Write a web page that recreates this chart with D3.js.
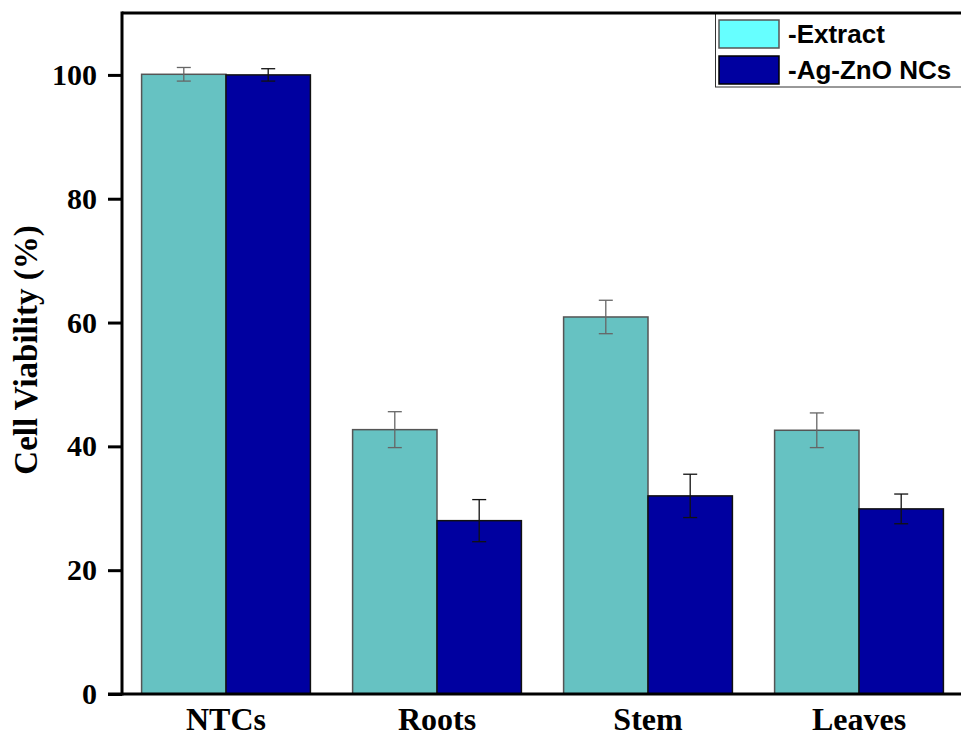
<!DOCTYPE html>
<html>
<head>
<meta charset="utf-8">
<script src="https://cdn.jsdelivr.net/npm/d3@7"></script>
<style>
  html, body { margin: 0; padding: 0; background: #fff; }
  svg { display: block; }
</style>
</head>
<body>
<svg id="chart" width="961" height="736"></svg>
<script>
const categories = ["NTCs", "Roots", "Stem", "Leaves"];
const seriesNames = ["-Extract", "-Ag-ZnO NCs"];
const extractValues = [100.1, 42.7, 60.9, 42.6];
const extractErrors = [1.1, 2.9, 2.7, 2.8];
const agznoValues = [100.0, 28.0, 32.0, 29.9];
const agznoErrors = [1.0, 3.4, 3.5, 2.4];
const yTicks = [0, 20, 40, 60, 80, 100];

const svg = d3.select("#chart");
const mLeft = 122, mTop = 13, mBottom = 694, mRight = 961;

const y = d3.scaleLinear().domain([0, 110]).range([mBottom, mTop]);
const x0 = d3.scaleBand().domain(categories).range([120.5, 964.5]).paddingInner(0.2).paddingOuter(0.1);
const x1 = d3.scaleBand().domain(seriesNames).range([0, x0.bandwidth()]);

const fills = ["#66C2C2", "#0000A0"];
const strokes = ["#555555", "#111111"];
const errColors = ["#666666", "#111111"];
const legendFills = ["#66FFFF", "#0000A0"];

const data = categories.map((c, i) => ({
  cat: c,
  vals: [
    { s: seriesNames[0], v: extractValues[i], e: extractErrors[i], k: 0 },
    { s: seriesNames[1], v: agznoValues[i], e: agznoErrors[i], k: 1 }
  ]
}));

const g = svg.append("g");
const groups = g.selectAll("g.grp").data(data).join("g")
  .attr("class", "grp")
  .attr("transform", d => `translate(${x0(d.cat)},0)`);

groups.selectAll("rect").data(d => d.vals).join("rect")
  .attr("x", d => x1(d.s))
  .attr("y", d => y(d.v))
  .attr("width", x1.bandwidth())
  .attr("height", d => y(0) - y(d.v))
  .attr("fill", d => fills[d.k])
  .attr("stroke", d => strokes[d.k])
  .attr("stroke-width", 1.5);

// error bars
const cap = 7;
groups.selectAll("g.err").data(d => d.vals).join("g").attr("class", "err").each(function(d) {
  const cx = x1(d.s) + x1.bandwidth() / 2;
  const sel = d3.select(this).attr("stroke", errColors[d.k]).attr("stroke-width", 1.3);
  sel.append("line").attr("x1", cx).attr("x2", cx).attr("y1", y(d.v + d.e)).attr("y2", y(d.v - d.e));
  sel.append("line").attr("x1", cx - cap).attr("x2", cx + cap).attr("y1", y(d.v + d.e)).attr("y2", y(d.v + d.e));
  sel.append("line").attr("x1", cx - cap).attr("x2", cx + cap).attr("y1", y(d.v - d.e)).attr("y2", y(d.v - d.e));
});

// bottom axis line
svg.append("line").attr("x1", 108).attr("x2", mRight).attr("y1", mBottom).attr("y2", mBottom)
  .attr("stroke", "#000").attr("stroke-width", 3);

const yAxis = svg.append("g").attr("transform", `translate(${mLeft},0)`)
  .call(d3.axisLeft(y).tickValues(yTicks).tickSize(14).tickPadding(11).tickSizeOuter(0));
yAxis.select(".domain").attr("stroke", "#000").attr("stroke-width", 3)
  .attr("d", `M0,${mTop - 1.5}V${mBottom + 1.5}`);
yAxis.selectAll(".tick line").attr("stroke", "#000").attr("stroke-width", 3);
yAxis.selectAll(".tick text")
  .attr("font-family", "'Liberation Serif', 'Times New Roman', serif")
  .attr("font-weight", "bold")
  .attr("font-size", 30)
  .attr("fill", "#000");

// x labels
const xAxis = svg.append("g").attr("transform", `translate(0,${mBottom})`)
  .call(d3.axisBottom(x0).tickSize(0).tickPadding(0));
xAxis.select(".domain").remove();
xAxis.selectAll(".tick text")
  .attr("dy", null)
  .attr("y", 36)
  .attr("font-family", "'Liberation Serif', 'Times New Roman', serif")
  .attr("font-weight", "bold")
  .attr("font-size", 32)
  .attr("fill", "#000");

// y title
svg.append("text")
  .attr("transform", `translate(37,350) rotate(-90)`)
  .attr("text-anchor", "middle")
  .attr("font-family", "'Liberation Serif', 'Times New Roman', serif")
  .attr("font-weight", "bold")
  .attr("font-size", 33)
  .text("Cell Viability (%)");

// legend
const lg = svg.append("g");
lg.append("rect").attr("x", 715.5).attr("y", 13).attr("width", 260).attr("height", 74)
  .attr("fill", "#fff").attr("stroke", "#333").attr("stroke-width", 1);
svg.append("line").attr("x1", mLeft).attr("x2", mRight).attr("y1", mTop).attr("y2", mTop)
  .attr("stroke", "#000").attr("stroke-width", 3);
const items = lg.selectAll("g.item").data(seriesNames).join("g")
  .attr("class", "item")
  .attr("transform", (d, i) => `translate(719,${20 + i * 36})`);
items.append("rect").attr("width", 60).attr("height", 28)
  .attr("fill", (d, i) => legendFills[i])
  .attr("stroke", (d, i) => i === 0 ? "#555" : "#000").attr("stroke-width", 1.5);
items.append("text").attr("x", 69).attr("y", 23)
  .attr("font-family", "'Liberation Sans', Arial, sans-serif")
  .attr("font-weight", "bold")
  .attr("font-size", 26)
  .text(d => d);
</script>
</body>
</html>
